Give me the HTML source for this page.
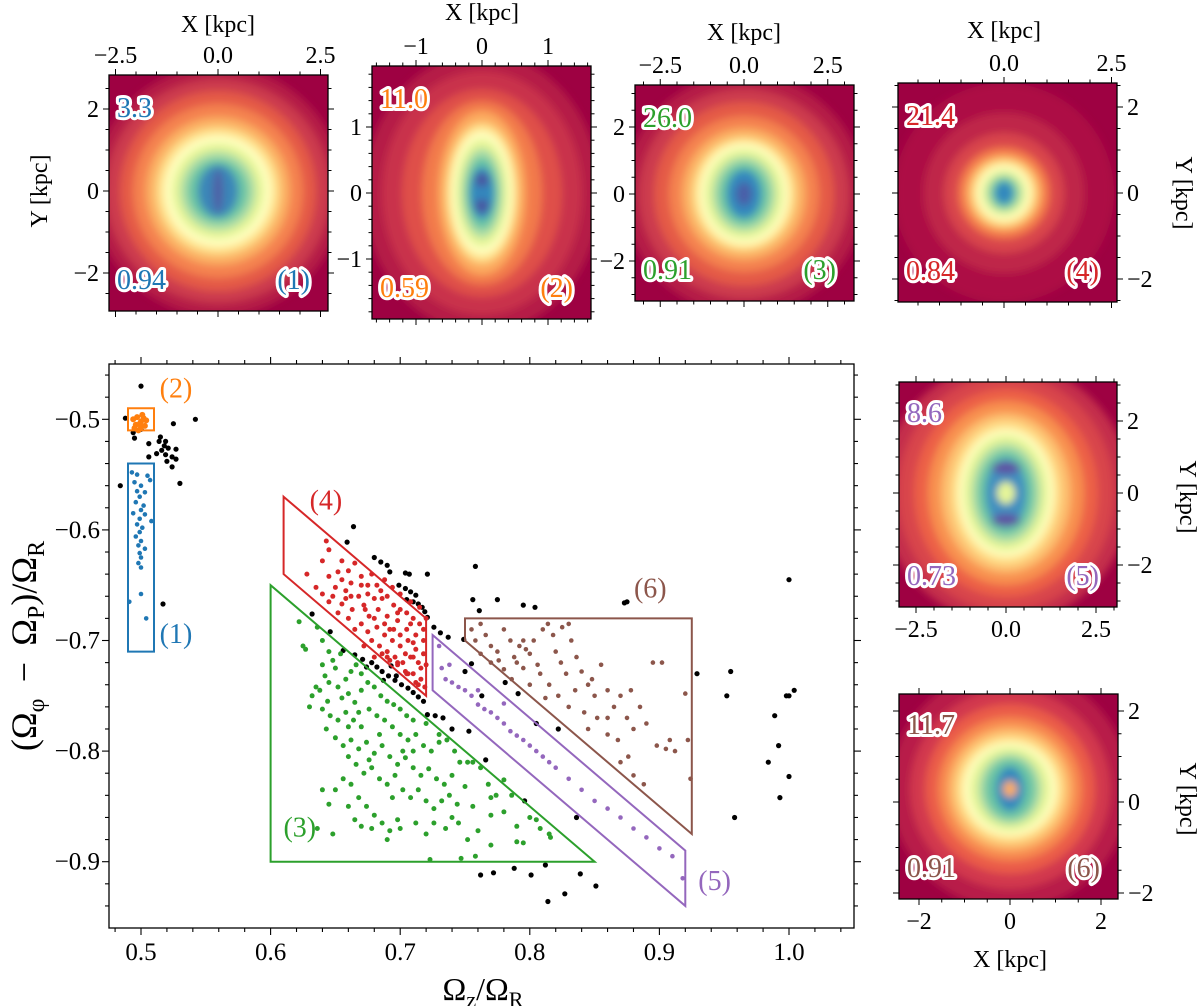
<!DOCTYPE html>
<html><head><meta charset="utf-8">
<style>
html,body{margin:0;padding:0;background:#fff;}
svg{display:block;font-family:"Liberation Serif",serif;}
</style></head>
<body>
<svg id="fig" width="1200" height="1006" viewBox="0 0 1200 1006" xmlns="http://www.w3.org/2000/svg">
<defs>
<filter id="blur" x="-20%" y="-20%" width="140%" height="140%"><feGaussianBlur stdDeviation="4"/></filter>
</defs>
<g id="insets"></g>
<g id="main"></g>
</svg>
<script>
// ---------------- main chart data ----------------
const xTicks = [0.5, 0.6, 0.7, 0.8, 0.9, 1.0];
const xTickLabels = ["0.5", "0.6", "0.7", "0.8", "0.9", "1.0"];
const yTicks = [-0.5, -0.6, -0.7, -0.8, -0.9];
const yTickLabels = ["\u22120.5", "\u22120.6", "\u22120.7", "\u22120.8", "\u22120.9"];

const blackPts = [[0.5,-0.47],[0.488,-0.499],[0.542,-0.5],[0.525,-0.504],[0.495,-0.517],[0.515,-0.516],[0.519,-0.52],[0.518,-0.524],[0.521,-0.526],[0.527,-0.527],[0.516,-0.528],[0.512,-0.531],[0.519,-0.532],[0.524,-0.534],[0.506,-0.534],[0.52,-0.538],[0.527,-0.536],[0.524,-0.543],[0.53,-0.558],[0.484,-0.56],[0.514,-0.52],[0.506,-0.522],[0.517,-0.667],[0.494,-0.512],[0.5,-0.509],
[0.664,-0.597],[0.659,-0.611],[0.68,-0.625],[0.685,-0.629],[0.69,-0.632],[0.692,-0.638],[0.704,-0.639],[0.707,-0.64],[0.721,-0.64],[0.699,-0.65],[0.704,-0.653],[0.708,-0.656],[0.712,-0.659],[0.705,-0.663],[0.71,-0.665],[0.714,-0.667],[0.717,-0.67],[0.719,-0.674],[0.721,-0.679],[0.726,-0.688],[0.731,-0.693],[0.737,-0.697],[0.749,-0.699],[0.758,-0.633],[0.756,-0.663],[0.761,-0.673],[0.775,-0.663],[0.795,-0.668],[0.804,-0.67],[0.873,-0.666],[0.875,-0.665],[1.0,-0.645],[0.646,-0.692],[0.632,-0.676],[0.656,-0.709],[0.665,-0.713],[0.671,-0.717],[0.678,-0.72],[0.682,-0.724],[0.686,-0.728],[0.691,-0.732],[0.696,-0.736],[0.701,-0.74],[0.706,-0.743],[0.71,-0.747],[0.714,-0.751],[0.718,-0.755],[0.721,-0.767],[0.727,-0.768],[0.733,-0.77],[0.687,-0.736],[0.697,-0.732],[0.693,-0.723],[0.674,-0.724],[0.755,-0.721],[0.75,-0.728],[0.763,-0.75],[0.781,-0.738],[0.791,-0.748],[0.805,-0.775],[0.822,-0.78],[0.74,-0.78],[0.753,-0.782],[0.766,-0.808],[0.796,-0.845],[0.836,-0.86],[0.929,-0.73],[0.955,-0.728],[0.952,-0.75],[0.998,-0.75],[1.0,-0.75],[1.004,-0.745],[0.989,-0.768],[0.992,-0.795],[0.984,-0.81],[1.0,-0.823],[0.993,-0.842],[0.958,-0.86],[0.762,-0.912],[0.772,-0.91],[0.788,-0.906],[0.801,-0.912],[0.812,-0.903],[0.814,-0.936],[0.827,-0.929],[0.839,-0.911],[0.851,-0.922]];

const bluePts = [[0.493,-0.548],[0.497,-0.55],[0.505,-0.551],[0.507,-0.555],[0.495,-0.557],[0.5,-0.56],[0.497,-0.565],[0.503,-0.566],[0.499,-0.57],[0.496,-0.575],[0.502,-0.578],[0.5,-0.582],[0.494,-0.585],[0.503,-0.586],[0.499,-0.59],[0.508,-0.592],[0.497,-0.595],[0.501,-0.598],[0.499,-0.602],[0.496,-0.606],[0.5,-0.61],[0.498,-0.614],[0.503,-0.617],[0.499,-0.621],[0.5,-0.625],[0.498,-0.63],[0.5,-0.634],[0.5,-0.658],[0.491,-0.665],[0.504,-0.68]];

const orangePts = [[0.494,-0.5],[0.497,-0.498],[0.5,-0.502],[0.502,-0.499],[0.496,-0.505],[0.499,-0.504],[0.503,-0.506],[0.498,-0.51],[0.501,-0.496],[0.495,-0.508],[0.504,-0.501],[0.5,-0.507]];

const greenPts = [[0.622,-0.683],[0.625,-0.705],[0.627,-0.708],[0.636,-0.688],[0.64,-0.7],[0.645,-0.71],[0.648,-0.718],[0.65,-0.725],[0.642,-0.732],[0.635,-0.742],[0.632,-0.75],[0.638,-0.745],[0.645,-0.738],[0.652,-0.742],[0.658,-0.735],[0.662,-0.728],[0.666,-0.722],[0.67,-0.73],[0.655,-0.752],[0.66,-0.748],[0.665,-0.756],[0.67,-0.745],[0.675,-0.738],[0.68,-0.742],[0.685,-0.75],[0.69,-0.755],[0.695,-0.758],[0.7,-0.762],[0.705,-0.768],[0.71,-0.772],[0.64,-0.762],[0.646,-0.768],[0.652,-0.772],[0.658,-0.765],[0.664,-0.772],[0.67,-0.778],[0.676,-0.762],[0.682,-0.768],[0.688,-0.772],[0.694,-0.778],[0.7,-0.785],[0.706,-0.79],[0.712,-0.785],[0.718,-0.795],[0.724,-0.8],[0.73,-0.792],[0.736,-0.79],[0.643,-0.78],[0.65,-0.788],[0.656,-0.795],[0.662,-0.79],[0.668,-0.798],[0.674,-0.792],[0.68,-0.802],[0.686,-0.795],[0.692,-0.805],[0.698,-0.812],[0.704,-0.806],[0.71,-0.815],[0.716,-0.822],[0.722,-0.816],[0.728,-0.825],[0.734,-0.83],[0.74,-0.822],[0.746,-0.81],[0.75,-0.832],[0.756,-0.81],[0.762,-0.815],[0.768,-0.83],[0.774,-0.84],[0.78,-0.826],[0.786,-0.84],[0.66,-0.805],[0.666,-0.812],[0.672,-0.82],[0.678,-0.815],[0.684,-0.825],[0.69,-0.83],[0.696,-0.822],[0.702,-0.835],[0.708,-0.842],[0.714,-0.835],[0.72,-0.845],[0.726,-0.852],[0.732,-0.845],[0.738,-0.84],[0.744,-0.848],[0.65,-0.835],[0.656,-0.825],[0.662,-0.83],[0.668,-0.842],[0.674,-0.85],[0.68,-0.858],[0.686,-0.865],[0.692,-0.872],[0.698,-0.862],[0.645,-0.848],[0.64,-0.835],[0.648,-0.875],[0.66,-0.85],[0.665,-0.862],[0.67,-0.868],[0.678,-0.87],[0.69,-0.88],[0.7,-0.87],[0.712,-0.865],[0.72,-0.875],[0.735,-0.87],[0.745,-0.865],[0.752,-0.88],[0.76,-0.872],[0.77,-0.858],[0.78,-0.855],[0.79,-0.882],[0.795,-0.883],[0.805,-0.862],[0.816,-0.878],[0.79,-0.868],[0.723,-0.898],[0.747,-0.897],[0.758,-0.895],[0.77,-0.885],[0.636,-0.87],[0.66,-0.778],[0.676,-0.808],[0.72,-0.775],[0.73,-0.785],[0.742,-0.8],[0.752,-0.81],[0.64,-0.722],[0.654,-0.712],[0.63,-0.76],[0.644,-0.755],[0.668,-0.765],[0.684,-0.785],[0.702,-0.8],[0.71,-0.8],[0.694,-0.842],[0.726,-0.865],[0.74,-0.86],[0.756,-0.85],[0.77,-0.842],[0.8,-0.86],[0.808,-0.87],[0.815,-0.875]];

const redPts = [[0.643,-0.61],[0.645,-0.618],[0.655,-0.628],[0.66,-0.637],[0.662,-0.648],[0.67,-0.642],[0.675,-0.65],[0.668,-0.66],[0.658,-0.655],[0.65,-0.652],[0.655,-0.667],[0.663,-0.672],[0.672,-0.668],[0.68,-0.662],[0.685,-0.655],[0.69,-0.66],[0.695,-0.668],[0.7,-0.672],[0.705,-0.675],[0.71,-0.68],[0.715,-0.685],[0.718,-0.69],[0.712,-0.695],[0.705,-0.69],[0.698,-0.682],[0.69,-0.678],[0.683,-0.672],[0.676,-0.678],[0.67,-0.685],[0.675,-0.692],[0.682,-0.688],[0.688,-0.695],[0.694,-0.7],[0.7,-0.705],[0.706,-0.7],[0.712,-0.708],[0.718,-0.712],[0.714,-0.72],[0.708,-0.715],[0.702,-0.72],[0.696,-0.715],[0.69,-0.71],[0.684,-0.705],[0.678,-0.7],[0.672,-0.705],[0.68,-0.715],[0.686,-0.712],[0.692,-0.718],[0.698,-0.722],[0.704,-0.728],[0.71,-0.73],[0.716,-0.735],[0.719,-0.742],[0.712,-0.738],[0.705,-0.73],[0.698,-0.72],[0.706,-0.73],[0.714,-0.74],[0.665,-0.69],[0.66,-0.68],[0.652,-0.675],[0.645,-0.665],[0.64,-0.658],[0.635,-0.652],[0.628,-0.64],[0.645,-0.642],[0.652,-0.638],[0.64,-0.628],[0.665,-0.63],[0.678,-0.64],[0.688,-0.645],[0.694,-0.652],[0.7,-0.658],[0.708,-0.665],[0.715,-0.67],[0.72,-0.68],[0.718,-0.7],[0.716,-0.725],[0.71,-0.715],[0.695,-0.69],[0.688,-0.685],[0.68,-0.68],[0.673,-0.672],[0.658,-0.662],[0.648,-0.66],[0.69,-0.715],[0.72,-0.722],[0.7,-0.695],[0.686,-0.662],[0.675,-0.658],[0.662,-0.66],[0.655,-0.645],[0.67,-0.65],[0.682,-0.65],[0.708,-0.685],[0.698,-0.675],[0.692,-0.69],[0.71,-0.702],[0.704,-0.712]];

const purplePts = [[0.73,-0.705],[0.732,-0.725],[0.735,-0.735],[0.738,-0.722],[0.74,-0.738],[0.745,-0.742],[0.75,-0.745],[0.755,-0.75],[0.76,-0.745],[0.76,-0.758],[0.765,-0.762],[0.77,-0.765],[0.775,-0.77],[0.78,-0.757],[0.78,-0.775],[0.785,-0.782],[0.79,-0.786],[0.795,-0.79],[0.8,-0.795],[0.805,-0.8],[0.81,-0.805],[0.815,-0.81],[0.82,-0.815],[0.83,-0.825],[0.84,-0.835],[0.85,-0.845],[0.86,-0.852],[0.87,-0.86],[0.88,-0.87],[0.89,-0.878],[0.9,-0.888],[0.91,-0.895],[0.918,-0.915]];

const brownPts = [[0.755,-0.69],[0.758,-0.7],[0.762,-0.685],[0.766,-0.695],[0.77,-0.705],[0.775,-0.71],[0.78,-0.69],[0.785,-0.7],[0.788,-0.715],[0.79,-0.72],[0.792,-0.705],[0.795,-0.7],[0.797,-0.708],[0.8,-0.712],[0.803,-0.7],[0.806,-0.722],[0.81,-0.69],[0.814,-0.685],[0.818,-0.695],[0.82,-0.71],[0.824,-0.72],[0.828,-0.73],[0.832,-0.7],[0.836,-0.715],[0.84,-0.728],[0.845,-0.74],[0.848,-0.735],[0.85,-0.75],[0.855,-0.722],[0.86,-0.745],[0.865,-0.76],[0.87,-0.75],[0.875,-0.77],[0.878,-0.745],[0.88,-0.78],[0.885,-0.76],[0.89,-0.775],[0.895,-0.72],[0.898,-0.795],[0.902,-0.72],[0.905,-0.798],[0.908,-0.79],[0.912,-0.8],[0.92,-0.748],[0.922,-0.79],[0.924,-0.825],[0.825,-0.688],[0.83,-0.685],[0.776,-0.718],[0.78,-0.726],[0.77,-0.72],[0.762,-0.712],[0.808,-0.73],[0.815,-0.74],[0.822,-0.75],[0.83,-0.76],[0.835,-0.745],[0.842,-0.765],[0.852,-0.77],[0.86,-0.785],[0.868,-0.79],[0.876,-0.805],[0.88,-0.822],[0.888,-0.83],[0.87,-0.81],[0.86,-0.77],[0.795,-0.725],[0.786,-0.735],[0.8,-0.74],[0.812,-0.752],[0.845,-0.78]];

const regionBlue = [[0.49,-0.54],[0.51,-0.54],[0.51,-0.71],[0.49,-0.71]];
const regionOrange = [[0.49,-0.49],[0.51,-0.49],[0.51,-0.51],[0.49,-0.51]];
const regionGreen = [[0.6,-0.65],[0.6,-0.9],[0.85,-0.9]];
const regionRed = [[0.61,-0.57],[0.72,-0.68],[0.72,-0.75],[0.61,-0.64]];
const regionPurple = [[0.725,-0.695],[0.92,-0.89],[0.92,-0.94],[0.725,-0.745]];
const regionBrown = [[0.75,-0.68],[0.925,-0.68],[0.925,-0.875],[0.75,-0.7]];
const regionLabels = ["(1)","(2)","(3)","(4)","(5)","(6)"];
const regionLabelPos = [[0.527,-0.694],[0.527,-0.472],[0.6225,-0.869],[0.6427,-0.5735],[0.9426,-0.9173],[0.893,-0.6531]];

const NS = "http://www.w3.org/2000/svg";
function mk(tag, attrs, parent){const e=document.createElementNS(NS,tag);for(const k in attrs)e.setAttribute(k,attrs[k]);if(parent)parent.appendChild(e);return e;}

const L=109,R=854,T=364,B=928;
const X = v => 141 + (v-0.5)*1296;
const Y = v => 419.3 + (-0.5 - v)*1106;

const main = document.getElementById('main');
const COL = {blue:"#1f77b4",orange:"#ff7f0e",green:"#2ca02c",red:"#d62728",purple:"#9467bd",brown:"#8c564b"};

function drawPts(pts, color, name, r){
  const g = mk('g',{},main);
  
  
  pts.forEach(p=>{
    const c = mk('circle',{cx:X(p[0]).toFixed(1),cy:Y(p[1]).toFixed(1),r:r,fill:color},g);
    
    
  });
}
function drawRegion(poly, color, name){
  const pts = poly.map(p=>X(p[0]).toFixed(1)+','+Y(p[1]).toFixed(1)).join(' ');
  const e = mk('polygon',{points:pts,fill:'none',stroke:color,'stroke-width':2},main);
  
  
}
drawPts(blackPts,'#000','unselected-orbits',2.6);
drawPts(bluePts,COL.blue,'group-1-orbits',2.3);
drawPts(orangePts,COL.orange,'group-2-orbits',3);
drawPts(greenPts,COL.green,'group-3-orbits',2.5);
drawPts(redPts,COL.red,'group-4-orbits',2.5);
drawPts(purplePts,COL.purple,'group-5-orbits',2.3);
drawPts(brownPts,COL.brown,'group-6-orbits',2.3);
drawRegion(regionBlue,COL.blue,'region-1-box');
drawRegion(regionOrange,COL.orange,'region-2-box');
drawRegion(regionGreen,COL.green,'region-3-triangle');
drawRegion(regionRed,COL.red,'region-4-parallelogram');
drawRegion(regionPurple,COL.purple,'region-5-band');
drawRegion(regionBrown,COL.brown,'region-6-trapezoid');
const labCols=[COL.blue,COL.orange,COL.green,COL.red,COL.purple,COL.brown];
regionLabels.forEach((t,i)=>{
  const e = mk('text',{x:X(regionLabelPos[i][0]).toFixed(1),y:(Y(regionLabelPos[i][1])+9).toFixed(1),'text-anchor':'middle','font-size':28,fill:labCols[i]},main);
  e.textContent=t;
  
  
});
const fr = mk('rect',{x:L,y:T,width:R-L,height:B-T,fill:'none',stroke:'#000','stroke-width':1.3},main);


const tg = mk('g',{stroke:'#000','stroke-width':1.1},main);


for(let k=0;k<=30;k++){
  const v=0.48+k*0.02; const px=X(v); if(px<L||px>R) continue;
  const major = Math.abs((v*10)-Math.round(v*10))<1e-6; const len=major?7:4;
  mk('line',{x1:px,y1:B,x2:px,y2:B+len},tg); mk('line',{x1:px,y1:T,x2:px,y2:T-len},tg);
}
for(let k=0;k<=30;k++){
  const v=-0.44-k*0.02; const py=Y(v); if(py<T||py>B) continue;
  const major = Math.abs((v*10)-Math.round(v*10))<1e-6; const len=major?7:4;
  mk('line',{x1:L,y1:py,x2:L-len,y2:py},tg); mk('line',{x1:R,y1:py,x2:R+len,y2:py},tg);
}
xTicks.forEach((v,i)=>{
  const e=mk('text',{x:X(v),y:960,'text-anchor':'middle','font-size':25},main); e.textContent=xTickLabels[i];
  
  
});
yTicks.forEach((v,i)=>{
  const e=mk('text',{x:100,y:Y(v)+8,'text-anchor':'end','font-size':25},main); e.textContent=yTickLabels[i];
  
  
});
</script>
<script>
(function(){
  const fig=document.getElementById('main');
  const xt=document.createElementNS(NS,'text');
  xt.setAttribute('x',483);xt.setAttribute('y',1000);xt.setAttribute('text-anchor','middle');xt.setAttribute('font-size',32);
  xt.innerHTML='\u03A9<tspan font-size="22" dy="7">z</tspan><tspan dy="-7">/\u03A9</tspan><tspan font-size="22" dy="7">R</tspan>';
  
  
  fig.appendChild(xt);
  const yt=document.createElementNS(NS,'text');
  yt.setAttribute('transform','translate(36,646) rotate(-90)');yt.setAttribute('text-anchor','middle');yt.setAttribute('font-size',36);
  yt.innerHTML='(\u03A9<tspan font-size="24" dy="8">\u03C6</tspan><tspan dy="-8">\u2009 \u2212 \u2009\u03A9</tspan><tspan font-size="24" dy="8">P</tspan><tspan dy="-8">)/\u03A9</tspan><tspan font-size="24" dy="8">R</tspan>';
  
  
  fig.appendChild(yt);
})();

// ---------------- insets ----------------
const insets = [
 {id:1,L:109,R:328,T:75,B:311,cx:218,cy:191,s:41,maj:[-2.5,0,2.5],majY:[2,0,-2],minor:0.5,xl:'top',yl:'left',fmtX:v=>v.toFixed(1),
  top:'3.3',bot:'0.94',col:'#1f77b4',
  rings:[[125,125,'#b51d47'],[112,112,'#cc3a4d'],[98,100,'#e45a47'],[85,87,'#f4824f'],[72,74,'#fbb063'],[62,64,'#fee08b'],[54,56,'#ffffbf'],[46,48,'#e6f598'],[38,40,'#abdda4'],[30,32,'#66c2a5'],[20,26,'#3a86b8'],[5,22,'#4f5fa6']]},
 {id:2,L:372,R:591,T:66,B:319,cx:482,cy:193,s:66,maj:[-1,0,1],majY:[1,0,-1],minor:0.2,xl:'top',yl:'left',fmtX:v=>String(v),
  top:'11.0',bot:'0.59',col:'#ff7f0e',
  rings:[[118,140,'#b51d47'],[100,122,'#c9304c'],[80,104,'#df4f4a'],[60,92,'#f27a4c'],[44,82,'#fcaa5f'],[36,70,'#fee08b'],[31,62,'#ffffbf'],[26,54,'#e6f598'],[21,45,'#abdda4'],[16,36,'#66c2a5'],[12,26,'#3288bd']]},
 {id:3,L:635,R:854,T:85,B:301,cx:744,cy:194,s:33.5,maj:[-2.5,0,2.5],majY:[2,0,-2],minor:0.5,xl:'top',yl:'left',fmtX:v=>v.toFixed(1),
  top:'26.0',bot:'0.91',col:'#2ca02c',
  rings:[[120,120,'#b51d47'],[105,105,'#cc3a4d'],[90,92,'#e45a47'],[75,78,'#f4824f'],[62,66,'#fbb063'],[52,57,'#fee08b'],[45,51,'#ffffbf'],[39,45,'#e6f598'],[32,38,'#abdda4'],[25,31,'#66c2a5'],[17,24,'#3288bd'],[8,12,'#4a5ea8']]},
 {id:4,L:898,R:1117,T:83,B:302,cx:1004,cy:193,s:43,maj:[-2.5,0,2.5],majY:[2,0,-2],minor:0.5,xl:'top',yl:'right',fmtX:v=>v.toFixed(1),
  top:'21.4',bot:'0.84',col:'#d62728',
  rings:[[110,110,'#ad0f44'],[80,80,'#bf2548'],[60,60,'#d8444c'],[46,46,'#f3784c'],[38,38,'#fdb063'],[32,33,'#fee08b'],[27,28,'#ffffbf'],[22,23,'#e6f598'],[18,19,'#abdda4'],[13,15,'#66c2a5'],[9,11,'#3288bd']]},
 {id:5,L:899,R:1117,T:382,B:607,cx:1006,cy:493,s:36,maj:[-2.5,0,2.5],majY:[2,0,-2],minor:0.5,xl:'bottom',yl:'right',fmtX:v=>v.toFixed(1),
  top:'8.6',bot:'0.73',col:'#9467bd',
  rings:[[125,130,'#c42e4c'],[108,118,'#d8444c'],[92,104,'#ec6046'],[78,92,'#f8904f'],[65,80,'#fdbe6e'],[55,72,'#fee08b'],[48,64,'#ffffbf'],[42,58,'#e6f598'],[35,50,'#abdda4'],[28,42,'#66c2a5'],[20,34,'#3f8fbf'],[9,11,'#e6f598']]},
 {id:6,L:899,R:1118,T:694,B:899,cx:1010,cy:802,s:45.5,maj:[-2,0,2],majY:[2,0,-2],minor:0.5,xl:'bottom',yl:'right',fmtX:v=>String(v),
  top:'11.7',bot:'0.91',col:'#8c564b',ccy:789,
  rings:[[120,120,'#b81e48'],[100,100,'#d2384d'],[85,85,'#ea5c48'],[72,72,'#f7894f'],[62,62,'#fdb769'],[54,54,'#fee08b'],[47,47,'#ffffbf'],[40,42,'#e6f598'],[32,36,'#abdda4'],[25,30,'#66c2a5'],[14,22,'#3288bd'],[7,8,'#fdae61']]}
];
const ig=document.getElementById('insets');
const defs=document.querySelector('defs');
insets.forEach(p=>{
  const g=mk('g',{},ig);
  
  
  const cp=mk('clipPath',{id:'cp'+p.id},defs); mk('rect',{x:p.L,y:p.T,width:p.R-p.L,height:p.B-p.T},cp);
  const cg=mk('g',{'clip-path':'url(#cp'+p.id+')'},g);
  mk('rect',{x:p.L,y:p.T,width:p.R-p.L,height:p.B-p.T,fill:'#9e0142'},cg);
  const bg=mk('g',{filter:'url(#blur)'},cg);
  const ccy = p.ccy||p.cy;
  p.rings.forEach(r=>mk('ellipse',{cx:p.cx,cy:ccy,rx:r[0],ry:r[1],fill:r[2]},bg));
  if(p.id===2){mk('ellipse',{cx:482,cy:180,rx:7,ry:7,fill:'#4a55a0'},bg);mk('ellipse',{cx:482,cy:206,rx:7,ry:7,fill:'#4a55a0'},bg);}
  if(p.id===5){mk('ellipse',{cx:1006,cy:468,rx:14,ry:6,fill:'#5e4fa2'},bg);mk('ellipse',{cx:1006,cy:520,rx:14,ry:6,fill:'#5e4fa2'},bg);}
  const f=mk('rect',{x:p.L,y:p.T,width:p.R-p.L,height:p.B-p.T,fill:'none',stroke:'#000','stroke-width':1.3},g);
  
  
  const t=mk('g',{stroke:'#000','stroke-width':1},g);
  const px=v=>p.cx+v*p.s, py=v=>p.cy-v*p.s;
  const isMajX=v=>p.maj.some(m=>Math.abs(m-v)<1e-6)||(p.minor===0.5&&Math.abs(v/2.5-Math.round(v/2.5))<1e-6&&p.maj[2]===2.5);
  for(let v=-4;v<=4.0001;v+=p.minor){
    const vv=Math.round(v*10)/10; const x=px(vv);
    if(x>=p.L-0.5&&x<=p.R+0.5){const len=isMajX(vv)?6:3.5;mk('line',{x1:x,y1:p.T,x2:x,y2:p.T-len},t);mk('line',{x1:x,y1:p.B,x2:x,y2:p.B+len},t);}
    const y=py(vv);
    if(y>=p.T-0.5&&y<=p.B+0.5){const len=p.majY.some(m=>Math.abs(m-vv)<1e-6)?6:3.5;mk('line',{x1:p.L,y1:y,x2:p.L-len,y2:y},t);mk('line',{x1:p.R,y1:y,x2:p.R+len,y2:y},t);}
  }
  p.maj.forEach(v=>{const x=px(v); if(x<p.L-1||x>p.R+1) return;
    const e=mk('text',{x:x,y:p.xl==='top'?p.T-12:p.B+30,'text-anchor':'middle','font-size':24},g);
    e.textContent=p.fmtX(v).replace('-','\u2212');
    
    });
  p.majY.forEach(v=>{const y=py(v);
    const e=mk('text',{x:p.yl==='left'?p.L-10:p.R+10,y:y+8,'text-anchor':p.yl==='left'?'end':'start','font-size':24},g);
    e.textContent=String(v).replace('-','\u2212');
    
    });
  const ann=(txt,x,y,anchor,nm)=>{const e=mk('text',{x:x,y:y,'text-anchor':anchor,'font-size':28,fill:p.col,stroke:'#fff','stroke-width':6,'paint-order':'stroke','stroke-linejoin':'round'},g);e.textContent=txt;
    
    };
  ann(p.top,p.L+8,p.T+(p.id===5||p.id===6?40:42),'start','panel-'+p.id+'-top-value');
  ann(p.bot,p.L+8,p.B-22,'start','panel-'+p.id+'-bottom-value');
  ann('('+p.id+')',p.R-18,p.B-22,'end','panel-'+p.id+'-label');
});
const titles=[[218,32,0,'X [kpc]'],[482,20,0,'X [kpc]'],[744,40,0,'X [kpc]'],[1004,38,0,'X [kpc]'],[1010,967,0,'X [kpc]'],
 [40,191,-90,'Y [kpc]'],[1183,193,90,'Y [kpc]'],[1187,497,90,'Y [kpc]'],[1187,799,90,'Y [kpc]']];
titles.forEach(tt=>{
  const e=mk('text',{'text-anchor':'middle','font-size':24,transform:'translate('+tt[0]+','+tt[1]+') rotate('+tt[2]+')'},ig);
  if(tt[2]!==0){e.setAttribute('dominant-baseline','central');}
  e.textContent=tt[3];
  
  
});
</script>
</body></html>
